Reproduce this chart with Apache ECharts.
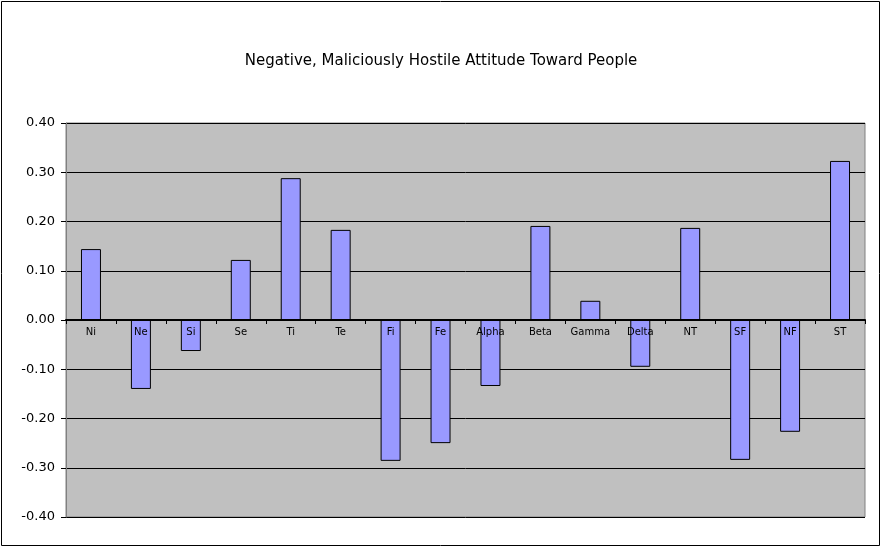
<!DOCTYPE html>
<html><head><meta charset="utf-8">
<script src="https://cdn.jsdelivr.net/npm/echarts@6/dist/echarts.min.js"></script>
<style>html,body{margin:0;padding:0;background:#fff}#c{width:882px;height:548px}</style>
</head><body><div id="c"></div>
<script>
var categories = ['Ni','Ne','Si','Se','Ti','Te','Fi','Fe','Alpha','Beta','Gamma','Delta','NT','SF','NF','ST'];
var values = [0.144,-0.140,-0.063,0.122,0.288,0.183,-0.286,-0.250,-0.134,0.191,0.039,-0.095,0.187,-0.284,-0.227,0.323];
var titleText = 'Negative, Maliciously Hostile Attitude Toward People';
var chart = echarts.init(document.getElementById('c'));
chart.setOption({
  animation:false,
  backgroundColor:'#fff',
  title:{text:titleText,left:'center',top:49,textStyle:{fontFamily:'DejaVu Sans',fontSize:15,fontWeight:'normal',color:'#000'}},
  graphic:[{type:'rect',shape:{x:1.5,y:1.5,width:878,height:544},style:{fill:'none',stroke:'#000',lineWidth:1},silent:true}],
  grid:{left:66,right:17,top:123,bottom:31,show:true,backgroundColor:'#C0C0C0',borderColor:'#808080',borderWidth:1},
  xAxis:{type:'category',data:categories,z:5,
    axisLine:{onZero:true,lineStyle:{color:'#000',width:2}},
    axisTick:{show:true,length:4,lineStyle:{color:'#000'}},
    axisLabel:{interval:0,fontFamily:'DejaVu Sans',fontSize:10,color:'#000',margin:-190}},
  yAxis:{type:'value',min:-0.4,max:0.4,interval:0.1,
    axisLine:{show:true,lineStyle:{color:'#808080'}},
    axisTick:{show:true,length:5,lineStyle:{color:'#000'}},
    axisLabel:{fontFamily:'DejaVu Sans',fontSize:13,color:'#000',margin:11,formatter:function(v){return v.toFixed(2);}},
    splitLine:{lineStyle:{color:'#000',width:1}}},
  series:[{type:'bar',data:values,barWidth:'40%',z:2,itemStyle:{color:'#9999FF',borderColor:'#000',borderWidth:1}}]
});
</script></body></html>
